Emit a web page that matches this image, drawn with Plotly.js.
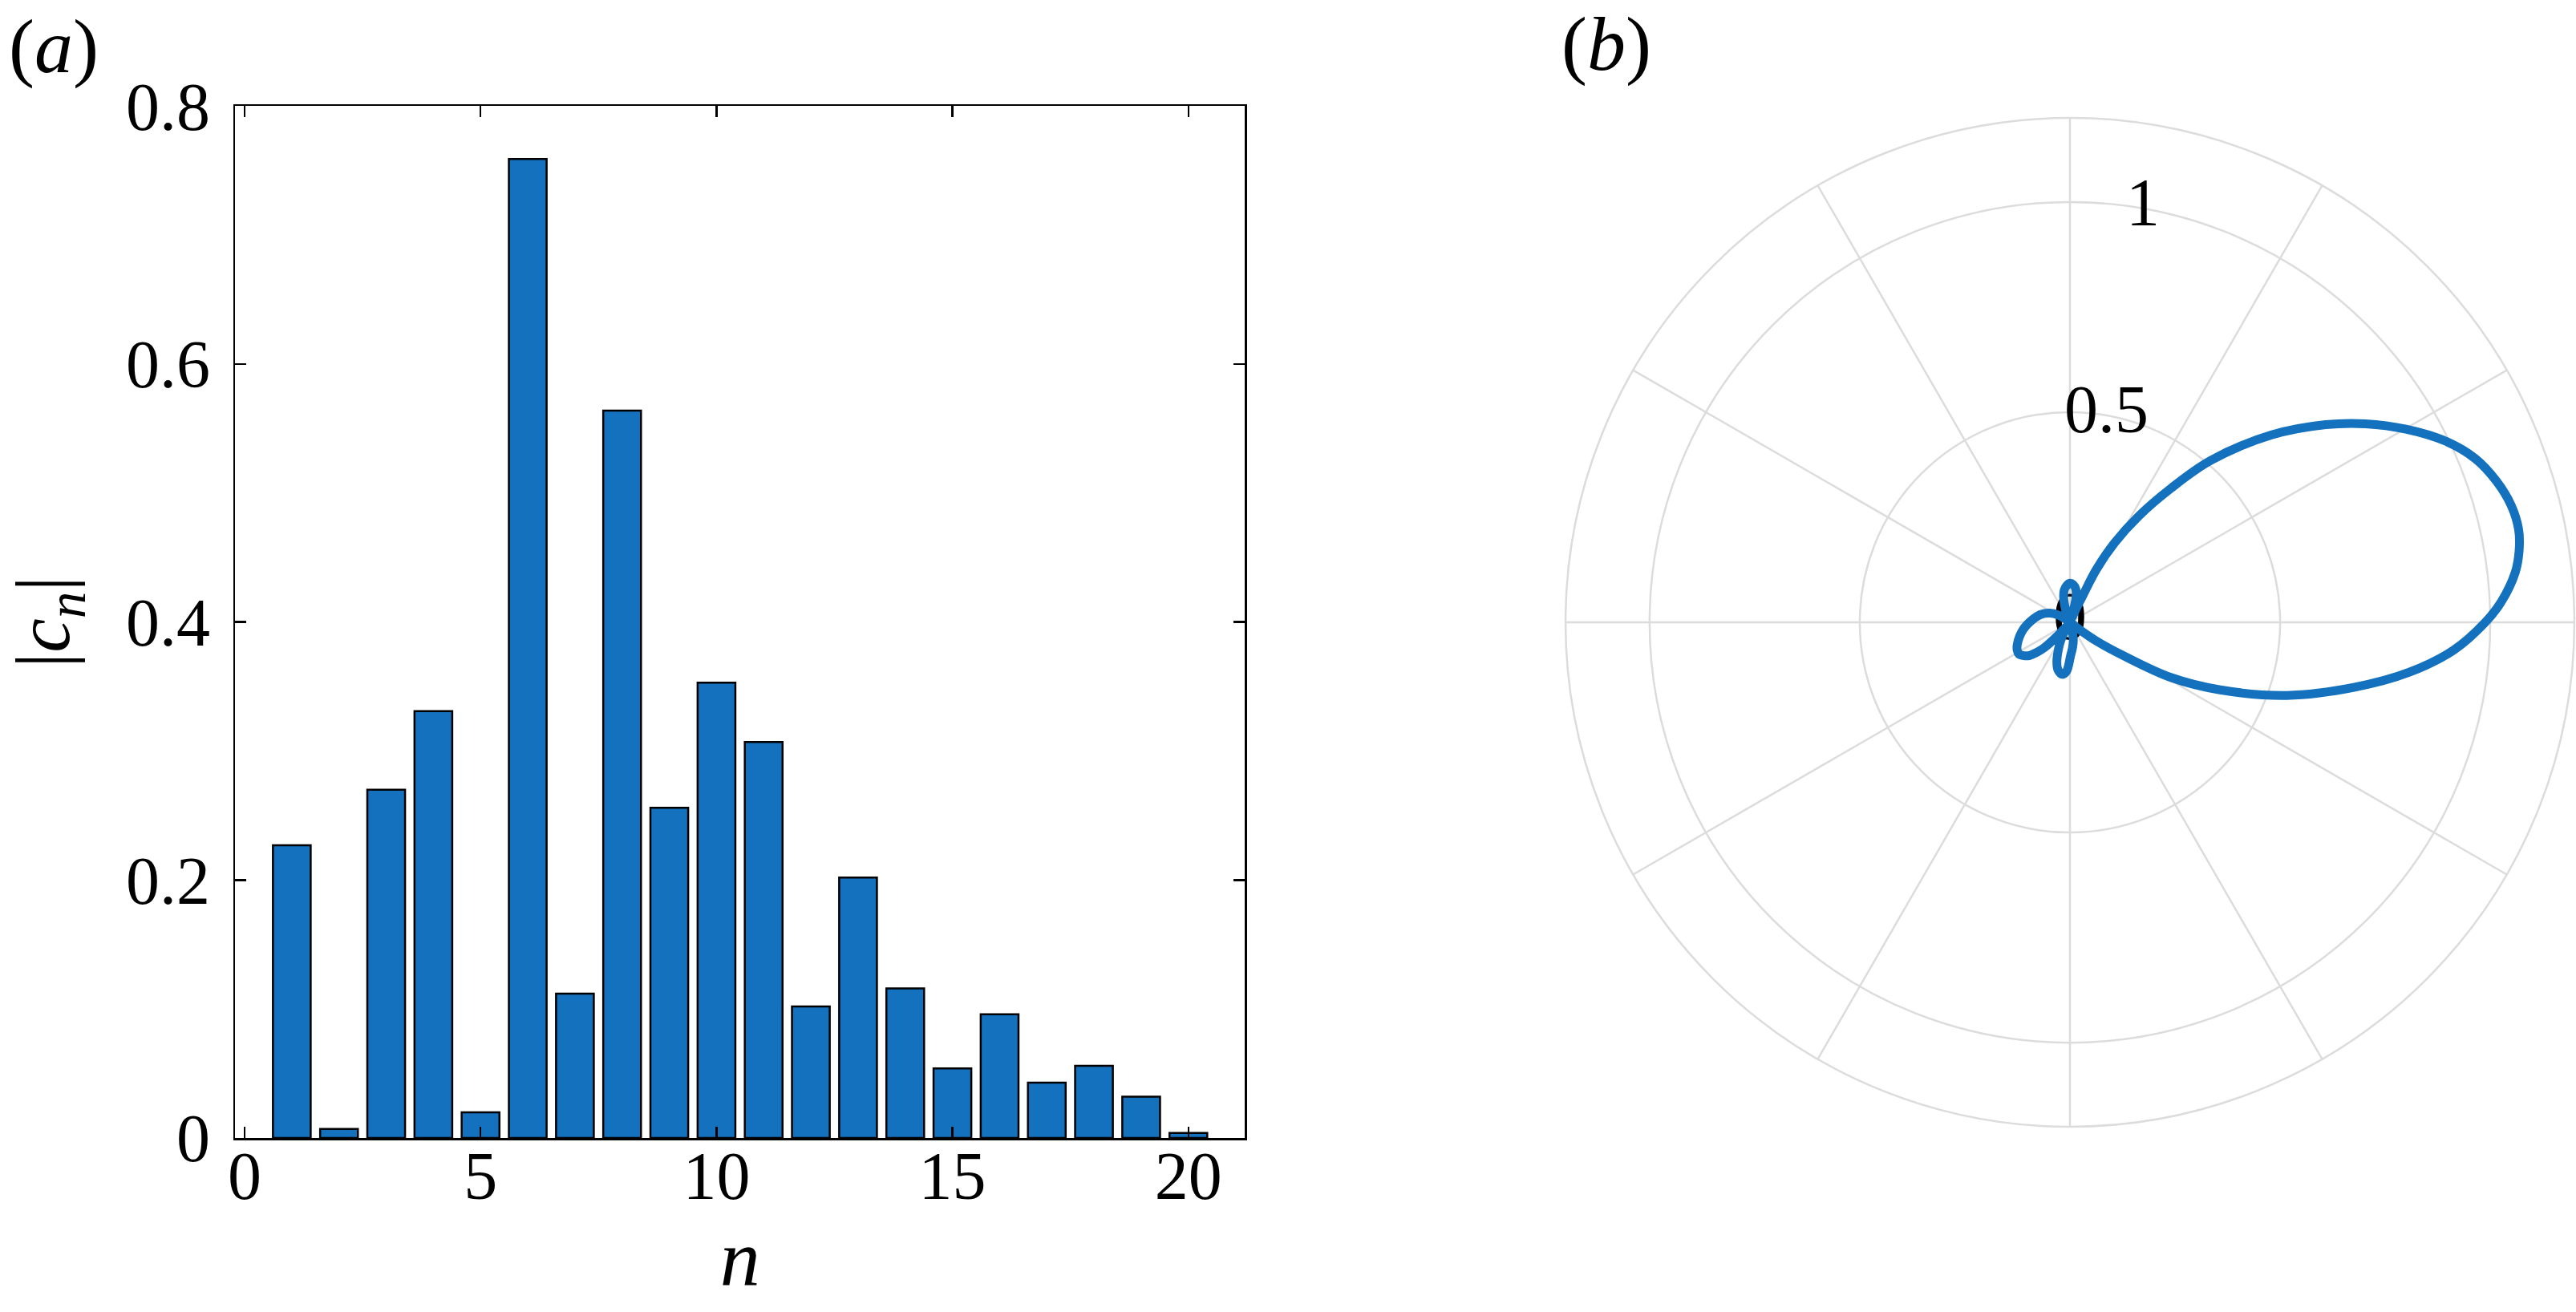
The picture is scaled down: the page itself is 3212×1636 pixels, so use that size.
<!DOCTYPE html>
<html>
<head>
<meta charset="utf-8">
<script src="https://cdn.plot.ly/plotly-3.0.1.min.js"></script>
<style>
  html, body { margin: 0; padding: 0; background: #fff; }
  #chart { width: 3212px; height: 1636px; }
</style>
</head>
<body>
<div id="chart"></div>
<script>
// (a) modal amplitudes |c_n|
const modeIndex = [1, 2, 3, 4, 5, 6, 7, 8, 9, 10, 11, 12, 13, 14, 15, 16, 17, 18, 19, 20];
const modeAmplitude = [0.227, 0.007, 0.270, 0.331, 0.020, 0.759, 0.112, 0.564, 0.256, 0.353,
                       0.307, 0.102, 0.202, 0.116, 0.054, 0.096, 0.043, 0.056, 0.032, 0.004];
const xTickVals = [0, 5, 10, 15, 20];
const yTickVals = [0, 0.2, 0.4, 0.6, 0.8];

// (b) directivity pattern (degrees, radius)
const patternTheta = [-40, -37, -35, -32, -28.6, -24.2, -18.6, -12.9, -8.4, -4.1,
                      0, 2.7, 6.4, 9.05, 11.7, 14.85, 18.3, 22, 25.7, 29.9,
                      33.9, 37.7, 42.9, 49, 53, 57.1, 60.7, 63.5, 64.3, 65.5,
                      68, 72, 76, 80, 85, 90, 95, 100, 104, 108,
                      113, 125, 140, 148, 155.7, 165, 174.4, 188.9, 202.8, 208,
                      211.9, 216, 219.5, 222, 224.7, 227.5, 231, 237, 241, 245,
                      251.3, 256, 261.7, 266, 271, 276, 281, 286, 295, 310, 320];
const patternR = [0.003, 0.03, 0.08, 0.147, 0.275, 0.392, 0.545, 0.693, 0.815, 0.916,
                  0.988, 1.027, 1.066, 1.082, 1.09, 1.086, 1.069, 1.04, 0.993, 0.922,
                  0.847, 0.769, 0.655, 0.51, 0.399, 0.301, 0.217, 0.14, 0.076, 0.035,
                  0.01, 0.015, 0.058, 0.08, 0.09, 0.093, 0.088, 0.078, 0.062, 0.037,
                  0.012, 0.006, 0.01, 0.032, 0.053, 0.072, 0.087, 0.113, 0.136, 0.142,
                  0.143, 0.135, 0.124, 0.107, 0.085, 0.042, 0.012, 0.01, 0.037, 0.059,
                  0.097, 0.117, 0.125, 0.117, 0.08, 0.06, 0.042, 0.015, 0.006, 0.004, 0.003];
const radialTickVals = [0, 0.5, 1];
const radialTickText = ['0', '0.5', '1'];

const serif = 'Liberation Serif';
const blue = '#1471BE';
const grid = '#dcdcdc';

const data = [
    {
        type: 'bar',
        x: modeIndex,
        y: modeAmplitude,
        width: 0.8,
        marker: { color: blue, line: { color: '#000', width: 2.5 } },
        xaxis: 'x', yaxis: 'y',
        hoverinfo: 'skip',
        showlegend: false
    },
    {
        // radial tick labels placed along the 80 degree ray, as in the original
        type: 'scatterpolar',
        subplot: 'polar',
        mode: 'text',
        r: radialTickVals,
        theta: radialTickVals.map(() => 80),
        text: radialTickText,
        textposition: 'middle center',
        textfont: { family: serif, size: 84, color: '#000' },
        cliponaxis: false,
        hoverinfo: 'skip',
        showlegend: false
    },
    {
        type: 'scatterpolar',
        subplot: 'polar',
        mode: 'lines',
        r: patternR,
        theta: patternTheta,
        line: { color: blue, width: 11, shape: 'spline', smoothing: 1 },
        cliponaxis: false,
        hoverinfo: 'skip',
        showlegend: false
    }
];

const layout = {
    width: 3212,
    height: 1636,
    margin: { l: 0, r: 0, t: 0, b: 0, pad: 0 },
    paper_bgcolor: '#fff',
    plot_bgcolor: '#fff',
    font: { family: serif, size: 84, color: '#000' },
    showlegend: false,
    xaxis: {
        domain: [0.0913, 0.4833],
        range: [-0.2, 21.2],
        tickvals: xTickVals,
        ticks: 'inside',
        ticklen: 14,
        tickwidth: 2.5,
        tickcolor: '#000',
        showline: true,
        linecolor: '#000',
        linewidth: 2.5,
        mirror: 'ticks',
        showgrid: false,
        zeroline: false,
        ticklabelstandoff: -27,
        tickfont: { family: serif, size: 84 },
        title: { text: '<i>n</i>', font: { family: serif, size: 100 }, standoff: 10 }
    },
    yaxis: {
        domain: [0.1326, 0.9191],
        range: [0, 0.8],
        tickvals: yTickVals,
        ticks: 'inside',
        ticklen: 14,
        tickwidth: 2.5,
        tickcolor: '#000',
        showline: true,
        linecolor: '#000',
        linewidth: 2.5,
        mirror: 'ticks',
        showgrid: false,
        zeroline: false,
        ticklabelstandoff: 12,
        tickfont: { family: serif, size: 84 },
        title: { text: '|<i>c</i><sub><i>n</i></sub>|', font: { family: serif, size: 96 }, standoff: 50 }
    },
    polar: {
        domain: { x: [0.6077, 0.9994], y: [0.1412, 0.9101] },
        bgcolor: '#fff',
        radialaxis: {
            range: [0, 1.2],
            tickvals: radialTickVals,
            showticklabels: false,
            ticks: '',
            showline: false,
            angle: 80,
            gridcolor: grid,
            gridwidth: 2.5
        },
        angularaxis: {
            rotation: 0,
            direction: 'counterclockwise',
            dtick: 30,
            showticklabels: false,
            ticks: '',
            showline: true,
            linecolor: grid,
            linewidth: 2.5,
            gridcolor: grid,
            gridwidth: 2.5
        }
    },
    annotations: [
        {
            text: '(<i>a</i>)', xref: 'paper', yref: 'paper',
            x: 67 / 3212, y: 1 - 57 / 1636, xanchor: 'center', yanchor: 'middle',
            showarrow: false, font: { family: serif, size: 96 }
        },
        {
            text: '(<i>b</i>)', xref: 'paper', yref: 'paper',
            x: 2003 / 3212, y: 1 - 55 / 1636, xanchor: 'center', yanchor: 'middle',
            showarrow: false, font: { family: serif, size: 96 }
        }
    ]
};

Plotly.newPlot('chart', data, layout, { displayModeBar: false, staticPlot: true });
</script>
</body>
</html>
